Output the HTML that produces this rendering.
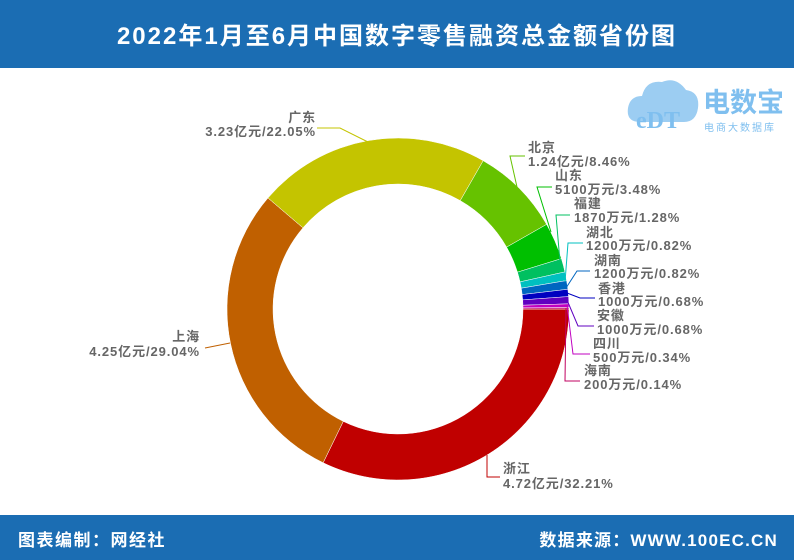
<!DOCTYPE html>
<html><head><meta charset="utf-8"><style>
body{margin:0;width:794px;height:560px;overflow:hidden;background:#fff;font-family:"Liberation Sans","Noto Sans CJK SC",sans-serif;}
</style></head><body>
<svg id="s" width="794" height="560" xmlns="http://www.w3.org/2000/svg" style="position:absolute;left:0;top:0">
<rect x="0" y="0" width="794" height="68" fill="#1b6db3"/>
<text x="397" y="44" text-anchor="middle" fill="#fff" font-size="24" font-weight="bold" letter-spacing="2" font-family="Liberation Sans,Noto Sans CJK SC,sans-serif">2022年1月至6月中国数字零售融资总金额省份图</text>
<rect x="0" y="515" width="794" height="45" fill="#1b6db3"/>
<text x="18" y="546" fill="#fff" font-size="17" font-weight="bold" letter-spacing="1.5" font-family="Liberation Sans,Noto Sans CJK SC,sans-serif">图表编制：网经社</text>
<text x="778" y="546" text-anchor="end" fill="#fff" font-size="17" font-weight="bold" letter-spacing="1.2" font-family="Liberation Sans,Noto Sans CJK SC,sans-serif">数据来源：WWW.100EC.CN</text>
<g id="pie"></g>
<g fill="none" stroke-width="1">
<polyline points="317,128 340,128 368,142" stroke="#c4c400"/>
<polyline points="525,156 510,156 517,187" stroke="#66c200"/>
<polyline points="552,187 537,187 551,232" stroke="#00bf00"/>
<polyline points="570,215 556,215 560,262" stroke="#00c060"/>
<polyline points="583,243 568,243 565,282" stroke="#00c0c0"/>
<polyline points="590,271 577,271 566,288" stroke="#0066c0"/>
<polyline points="595,298 580,298 567,293" stroke="#0000c0"/>
<polyline points="594,326 578,326 567,300" stroke="#6000c0"/>
<polyline points="590,354 573,354 567,305" stroke="#c000c0"/>
<polyline points="580,381 565,381 566,308" stroke="#c00060"/>
<polyline points="205,348 230,343" stroke="#c06000"/>
<polyline points="487,455 487,477 500,477" stroke="#c00000"/>
</g>
<g fill="#666" font-size="13" font-weight="bold" letter-spacing="0.9" font-family="Liberation Sans,Noto Sans CJK SC,sans-serif">
<text x="316" y="122" text-anchor="end">广东</text><text x="316" y="136" text-anchor="end">3.23亿元/22.05%</text>
<text x="528" y="152">北京</text><text x="528" y="166">1.24亿元/8.46%</text>
<text x="555" y="180">山东</text><text x="555" y="194">5100万元/3.48%</text>
<text x="574" y="208">福建</text><text x="574" y="222">1870万元/1.28%</text>
<text x="586" y="237">湖北</text><text x="586" y="250">1200万元/0.82%</text>
<text x="594" y="265">湖南</text><text x="594" y="278">1200万元/0.82%</text>
<text x="598" y="293">香港</text><text x="598" y="306">1000万元/0.68%</text>
<text x="597" y="320">安徽</text><text x="597" y="334">1000万元/0.68%</text>
<text x="593" y="348">四川</text><text x="593" y="362">500万元/0.34%</text>
<text x="584" y="375">海南</text><text x="584" y="389">200万元/0.14%</text>
<text x="200" y="341" text-anchor="end">上海</text><text x="200" y="356" text-anchor="end">4.25亿元/29.04%</text>
<text x="503" y="473">浙江</text><text x="503" y="488">4.72亿元/32.21%</text>
</g>
<g>
<path d="M640 122 Q626 122 628 108 Q630 96 642 96 Q646 80 662 82 Q676 76 686 90 Q700 92 698 108 Q696 122 684 122 Z" fill="#9ccdf2"/>
<text x="636" y="128" fill="#7fbfef" font-size="24" font-weight="bold" font-family="Liberation Serif,serif">eDT</text>
<text x="703" y="112" fill="#7fbfef" font-size="27" font-weight="bold" font-family="Liberation Sans,Noto Sans CJK SC,sans-serif">电数宝</text>
<text x="704" y="131" fill="#7fbfef" font-size="10" font-family="Liberation Sans,Noto Sans CJK SC,sans-serif" letter-spacing="2">电商大数据库</text>
</g>
</svg>
<script>
var d=[[32.21,"#c00000"],[29.04,"#c06000"],[22.05,"#c4c400"],[8.46,"#66c200"],[3.48,"#00bf00"],[1.28,"#00c060"],[0.82,"#00c0c0"],[0.82,"#0066c0"],[0.68,"#0000c0"],[0.68,"#6000c0"],[0.34,"#c000c0"],[0.14,"#c00060"]];
var cx=398,cy=309,R=171,r=125,a=90,g=document.getElementById("pie"),h="";
function p(rr,ang){var t=ang*Math.PI/180;return (cx+rr*Math.sin(t)).toFixed(2)+" "+(cy-rr*Math.cos(t)).toFixed(2);}
d.forEach(function(x){var b=a+x[0]*3.6,l=x[0]>50?1:0;
h+='<path d="M'+p(R,a)+' A'+R+' '+R+' 0 '+l+' 1 '+p(R,b)+' L'+p(r,b)+' A'+r+' '+r+' 0 '+l+' 0 '+p(r,a)+' Z" fill="'+x[1]+'" stroke="#fff" stroke-width="0.5"/>';a=b;});
g.innerHTML=h;
</script>
</body></html>
